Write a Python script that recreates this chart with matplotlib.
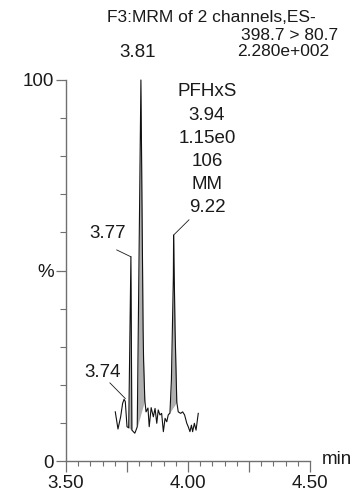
"""
MRM chromatogram of PFHxS (398.7 > 80.7)
"""

import numpy as np
import matplotlib
matplotlib.use("Agg")
from matplotlib import pyplot as plt
from matplotlib.ticker import MultipleLocator

# trace: retention time (min) and % of max
times = [3.702, 3.713, 3.724, 3.732, 3.738, 3.743, 3.750, 3.757, 3.766, 3.770,
         3.782, 3.787, 3.792, 3.807, 3.816, 3.818, 3.823, 3.828, 3.836, 3.841,
         3.849, 3.858, 3.865, 3.872, 3.878, 3.885, 3.892, 3.899, 3.906, 3.913,
         3.919, 3.926, 3.932, 3.940, 3.941, 3.947, 3.954, 3.960, 3.970, 3.978,
         3.986, 3.995, 4.001, 4.008, 4.014, 4.019, 4.026, 4.033, 4.042]
intensity = [12.9, 8.4, 11.6, 15.1, 16.2, 15.6, 9.0, 8.7, 53.6, 8.1,
             7.3, 8.1, 9.0, 100.0, 34.4, 26.5, 16.0, 12.9, 13.9, 9.0,
             14.0, 11.6, 13.8, 9.9, 13.4, 12.1, 12.5, 7.7, 11.2, 10.3,
             12.1, 12.6, 21.3, 48.3, 59.3, 34.4, 15.5, 12.9, 12.5, 12.9,
             12.1, 9.9, 9.0, 7.7, 9.4, 7.7, 9.9, 8.1, 12.5]

# integrated (grey) peaks
fill_start = [3.757, 3.792, 3.919]
fill_end = [3.770, 3.823, 3.954]

# peak labels
peak_labels = ["3.74", "3.77", "3.81"]
peak_times = [3.743, 3.766, 3.807]

header = ["F3:MRM of 2 channels,ES-", "398.7 > 80.7", "2.280e+002"]
compound_info = ["PFHxS", "3.94", "1.15e0", "106", "MM", "9.22"]
compound_time = 3.941

x_ticks = [3.50, 3.75, 4.00, 4.25, 4.50]
x_tick_labels = ["3.50", "", "4.00", "", "4.50"]
y_ticks = [0, 50, 100]
y_tick_labels = ["0", "%", "100"]

W, H = 354, 494
FONT = "Liberation Sans"
FS = 13.5
TXT = "#1a1a1a"
AXC = "#707070"

plt.rcParams['font.family'] = [FONT, 'DejaVu Sans']


def fx(px):
    return px / W


def fy(py):
    return 1 - py / H


t = np.array(times)
y = np.array(intensity)

fig = plt.figure(figsize=(W / 100, H / 100), dpi=100)
ax = fig.add_axes([fx(66), fy(461), (310 - 66) / W, (461 - 80) / H])

# grey fill of integrated peaks, straight baseline between start and end
for s, e in zip(fill_start, fill_end):
    tt = np.concatenate(([s], t[(t > s) & (t < e)], [e]))
    yy = np.interp(tt, t, y)
    base = np.interp(tt, [s, e], [yy[0], yy[-1]])
    ax.fill_between(tt, base, yy, color="#b0b0b0", lw=0, zorder=1)

ax.plot(t, y, color="#111111", lw=0.8, zorder=2, clip_on=False)

ax.set_xlim(3.5, 4.5)
ax.set_ylim(0, 100)
for side in ["top", "right"]:
    ax.spines[side].set_visible(False)
for side in ["left", "bottom"]:
    ax.spines[side].set_color(AXC)
    ax.spines[side].set_linewidth(1.0)

ax.set_xticks(x_ticks)
ax.set_xticklabels(x_tick_labels)
ax.xaxis.set_minor_locator(MultipleLocator(0.05))
ax.set_yticks(y_ticks)
ax.set_yticklabels(y_tick_labels)
ax.yaxis.set_minor_locator(MultipleLocator(10))
ax.tick_params(axis="x", which="major", length=8, width=0.9, color=AXC,
               pad=2, labelsize=FS, labelcolor=TXT)
ax.tick_params(axis="x", which="minor", length=3.6, width=0.8, color=AXC)
ax.tick_params(axis="y", which="major", length=7.5, width=0.9, color=AXC,
               pad=1, labelsize=FS, labelcolor=TXT)
ax.tick_params(axis="y", which="minor", length=4.3, width=0.8, color=AXC)

# peak labels with leader lines
apex = np.interp(peak_times, t, y)
ax.text(3.652, 23.1, peak_labels[0], ha="center", va="center", fontsize=FS, color=TXT)
ax.plot([3.680, peak_times[0]], [20.5, apex[0] + 0.8], color=TXT, lw=0.6, clip_on=False)
ax.text(3.672, 59.6, peak_labels[1], ha="center", va="center", fontsize=FS, color=TXT)
ax.plot([3.708, peak_times[1]], [55.4, apex[1]], color=TXT, lw=0.6, clip_on=False)
ax.text(3.795, 107.3, peak_labels[2], ha="center", va="center", fontsize=FS,
        color=TXT, clip_on=False)

# compound block, leader from last line to the 3.94 apex
for i, line in enumerate(compound_info):
    fig.text(fx(207), fy(92 + i * 23.2), line, ha="center", va="center",
             fontsize=FS, color=TXT)
ax.plot([4.004, compound_time], [63.3, np.interp(compound_time, t, y)],
        color=TXT, lw=0.6, clip_on=False)

# header, runs off the right edge like the original
HFS = 12.5
fig.text(fx(107), fy(18), header[0], ha="left", va="center", fontsize=HFS, color=TXT)
fig.text(fx(241), fy(35), header[1], ha="left", va="center", fontsize=HFS, color=TXT)
fig.text(fx(237), fy(52), header[2], ha="left", va="center", fontsize=HFS, color=TXT)

fig.text(fx(322), fy(459), "min", ha="left", va="center", fontsize=FS, color=TXT)

fig.savefig("out.png", dpi=100, facecolor="white")
plt.close(fig)
